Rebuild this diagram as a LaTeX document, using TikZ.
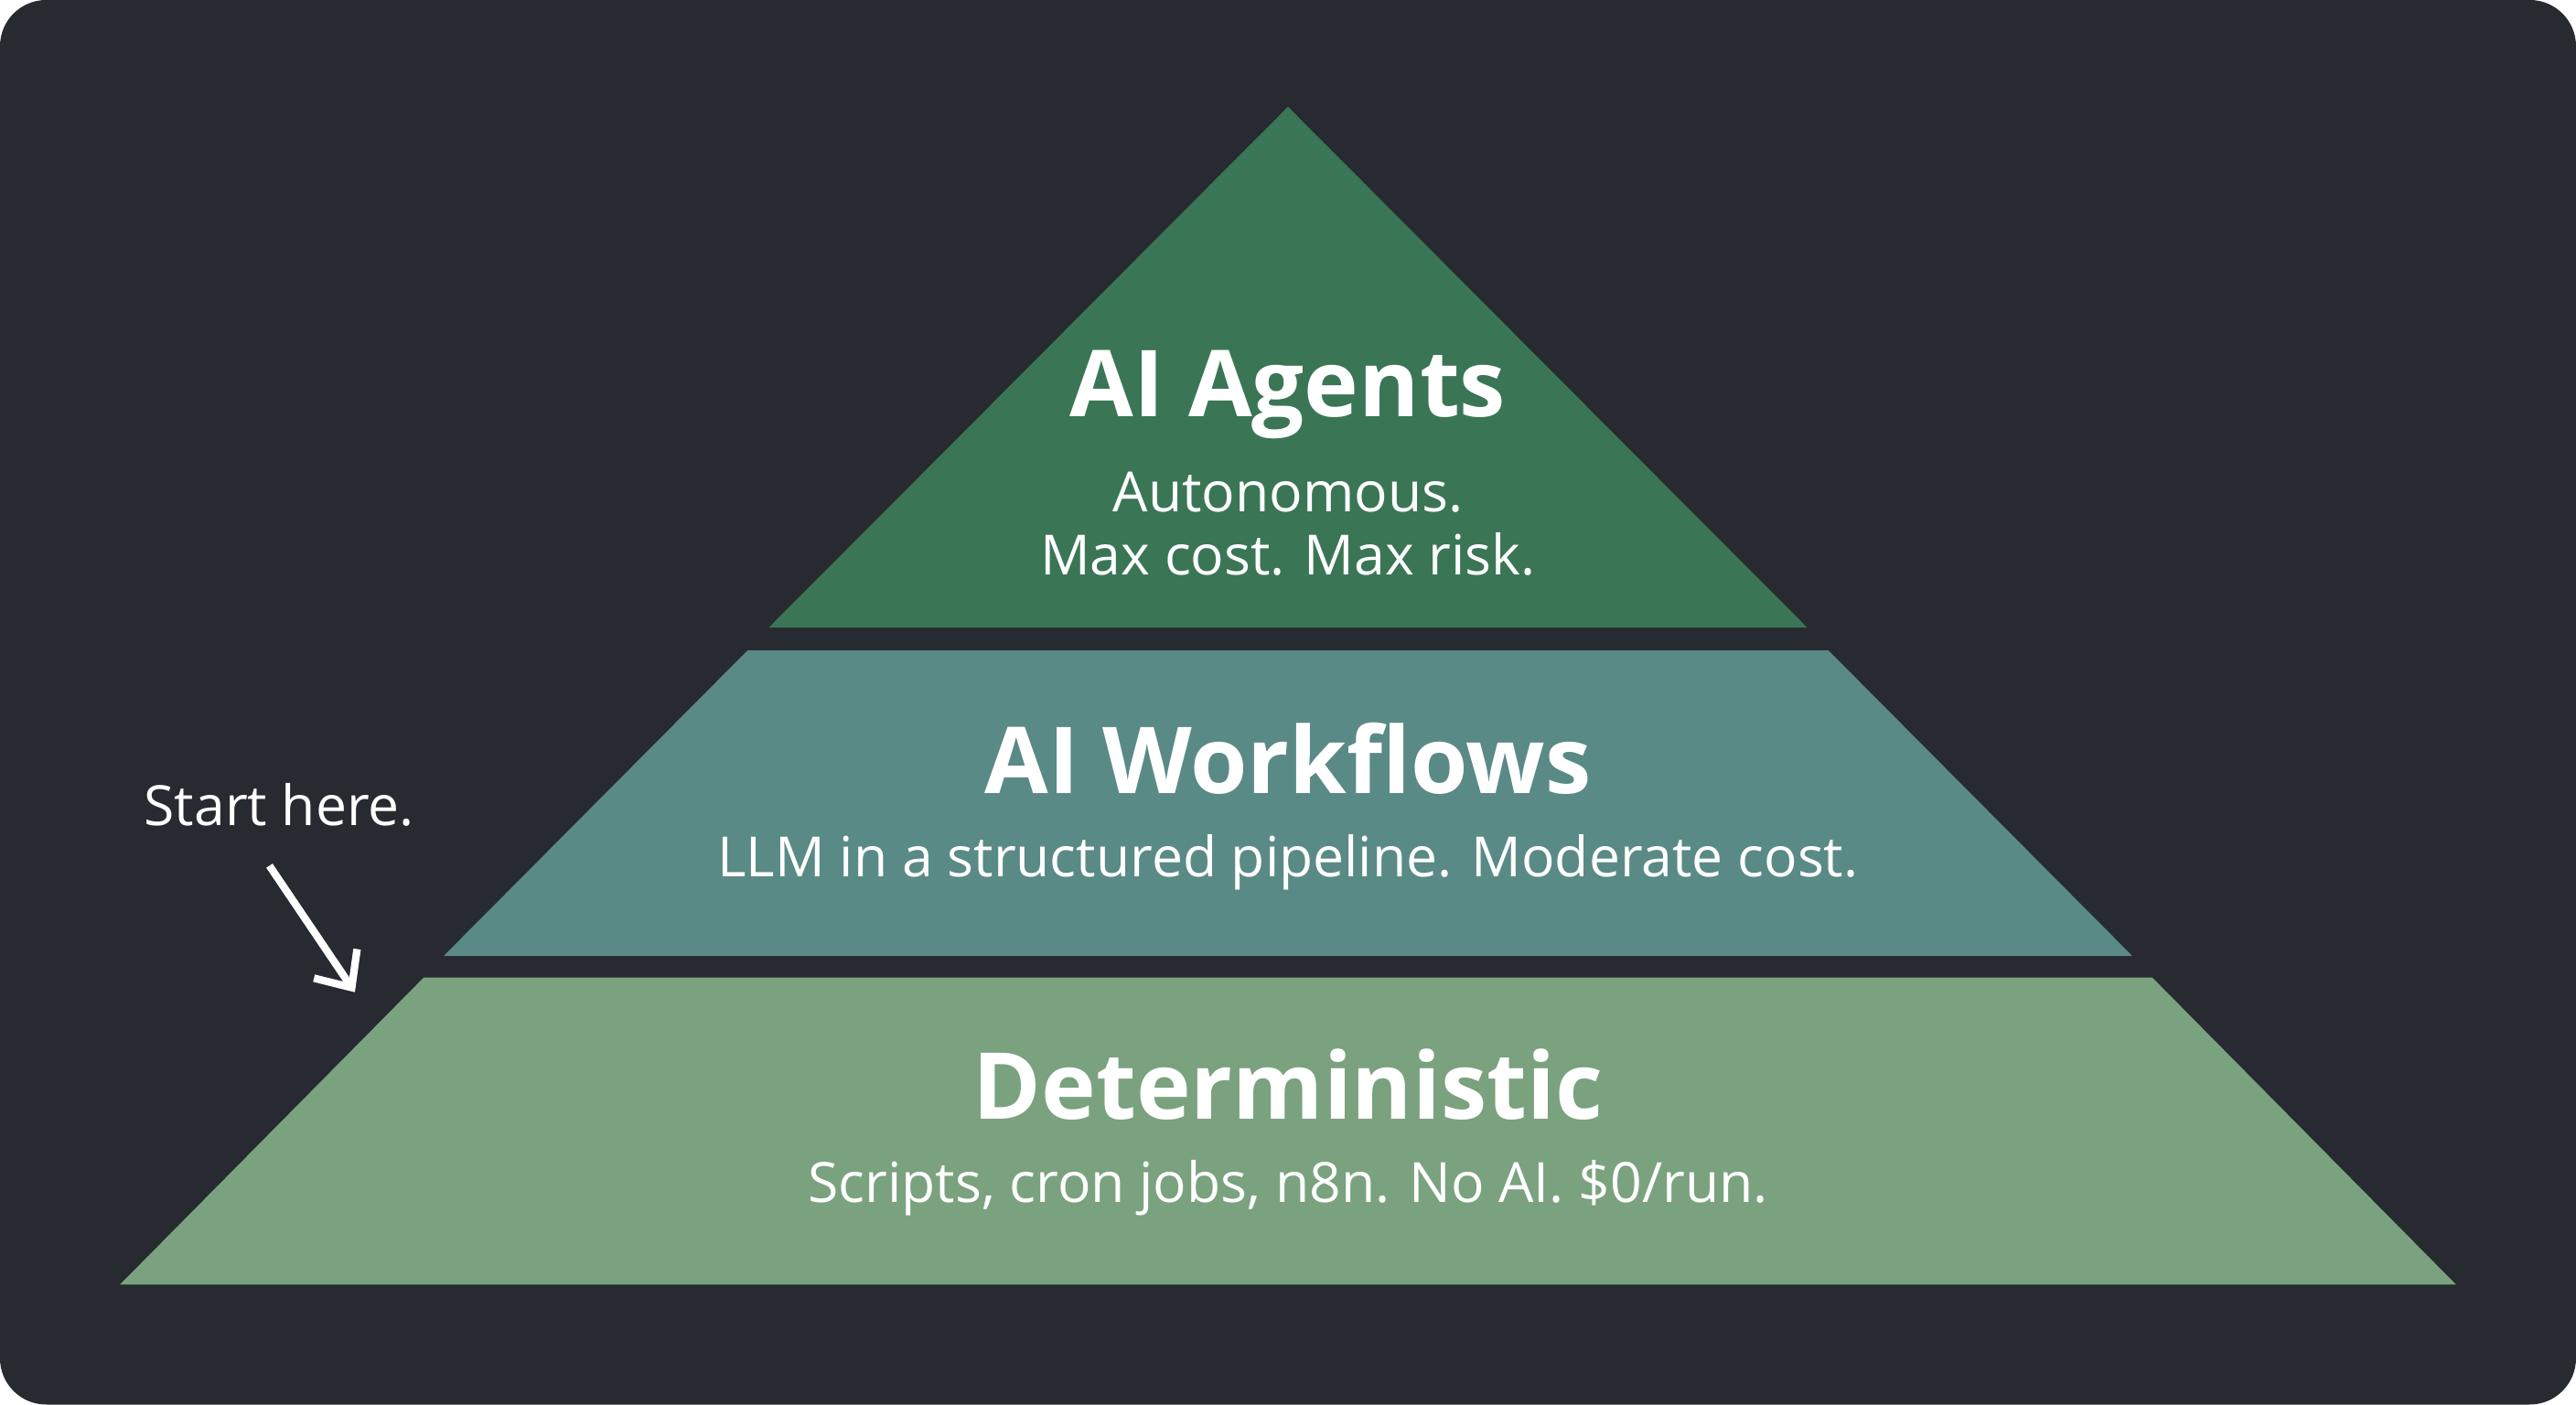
\documentclass[tikz,border=0pt]{standalone}
\usepackage{fontspec}
\setmainfont{Open Sans}
\usetikzlibrary{arrows.meta}
\definecolor{bg}{HTML}{272A30}
\definecolor{topc}{HTML}{3A7656}
\definecolor{midc}{HTML}{5A8A86}
\definecolor{botc}{HTML}{7AA27E}
\tikzset{
 title/.style={text=white,font=\fontsize{16}{19}\selectfont\bfseries},
 sub/.style={text=white,font=\fontsize{9.6}{12}\selectfont,align=center},
}
\begin{document}
\begin{tikzpicture}[x=0.01cm,y=-0.01cm]
\useasboundingbox (0,0) rectangle (1568,855);
\fill[bg,rounded corners=8] (0,0) rectangle (1568,855);
\fill[topc] (784,65) -- (1100,382) -- (468,382) -- cycle;
\fill[midc] (455,396) -- (1113,396) -- (1298,582) -- (270,582) -- cycle;
\fill[botc] (258,595) -- (1310,595) -- (1495,782) -- (73,782) -- cycle;
\node[title] (t1) at (784,240) {AI Agents};
\node[sub] (s1) at (784,319) {Autonomous.\\[-1pt]Max cost. Max risk.};
\node[title] (t2) at (784,462) {AI Workflows};
\node[sub] (s2) at (784,525) {LLM in a structured pipeline. Moderate cost.};
\node[title] (t3) at (784,660) {Deterministic};
\node[sub] (s3) at (784,723) {Scripts, cron jobs, n8n. No AI. \$0/run.};
\node[sub] (st) at (170,490) {Start here.};
\coordinate (a1) at (164,527);
\coordinate (a2) at (216,604);
\draw[white,line width=1.3pt,-{Straight Barb[length=5pt,width=9pt]}] (a1) -- (a2);
\end{tikzpicture}
\end{document}
